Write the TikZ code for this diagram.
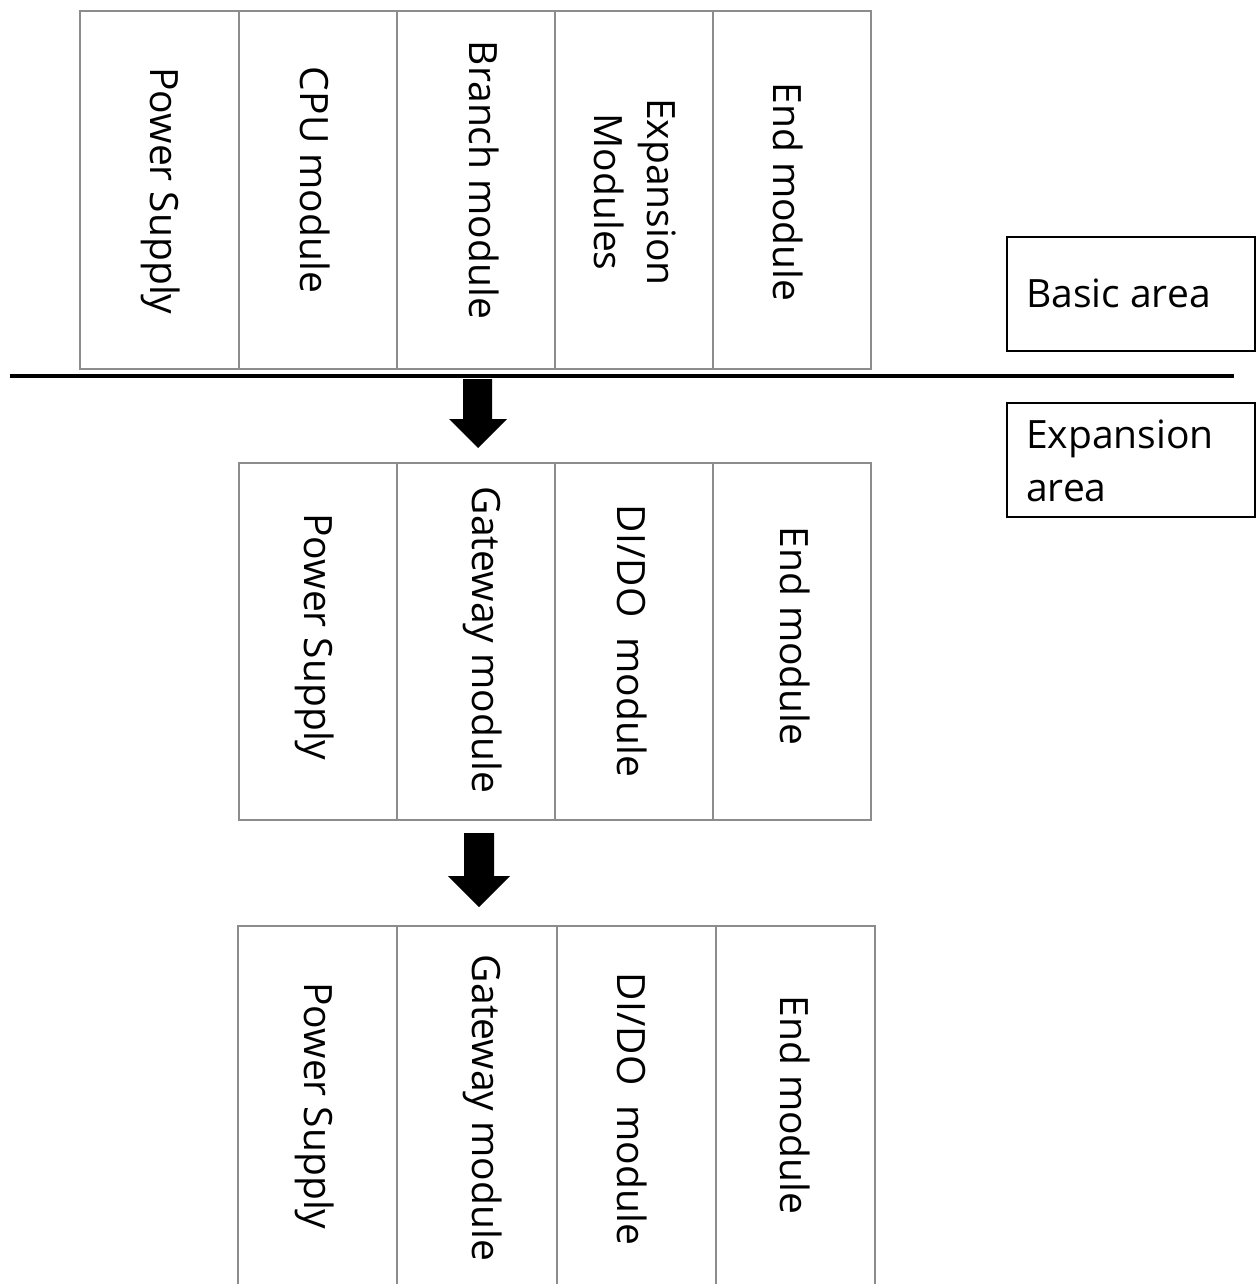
\documentclass[tikz,border=0pt]{standalone}
\usepackage{fontspec}
\setmainfont{Open Sans}
\newcommand\modfont{\fontsize{39}{53}\selectfont}
\begin{document}
\begin{tikzpicture}[x=1pt,y=-1pt,
  modbox/.style={draw=black!45, line width=1.6pt, inner sep=0pt, anchor=north west},
  areabox/.style={draw=black, line width=1.5pt, inner sep=0pt, anchor=north west},
  modtext/.style={rotate=-90, align=center, inner sep=0pt, font=\modfont},
  areatext/.style={anchor=west, align=left, inner sep=0pt, font=\modfont},
  blockarrow/.style={fill=black}]
\useasboundingbox (0,0) rectangle (1256,1284);
\clip (0,0) rectangle (1256,1284);
\fill[white] (0,0) rectangle (1256,1284);

% ---- Row 1 (basic area)
\node[modbox, minimum width=159pt, minimum height=358pt] (r1a) at (79,10) {};
\node[modbox, minimum width=158pt, minimum height=358pt] (r1b) at (238,10) {};
\node[modbox, minimum width=158pt, minimum height=358pt] (r1c) at (396,10) {};
\node[modbox, minimum width=158pt, minimum height=358pt] (r1d) at (554,10) {};
\node[modbox, minimum width=158pt, minimum height=358pt] (r1e) at (712,10) {};
\node[modtext] (t1a) at (161,191) {Power Supply};
\node[modtext] (t1b) at (315,180) {CPU module};
\node[modtext] (t1c) at (484,180) {Branch module};
\node[modtext] (t1d) at (635,192) {Expansion\\Modules};
\node[modtext] (t1e) at (788,192) {End module};

% ---- separator line
\coordinate (sepL) at (10,376);
\coordinate (sepR) at (1234,376);
\draw[line width=4.5pt] (sepL) -- (sepR);

% ---- arrow 1
\fill[blockarrow] (463,379) -- (492,379) -- (492,419) -- (507,419) -- (478,448)
  -- (449,419) -- (463,419) -- cycle;

% ---- Row 2
\node[modbox, minimum width=158pt, minimum height=357pt] (r2a) at (238,462) {};
\node[modbox, minimum width=158pt, minimum height=357pt] (r2b) at (396,462) {};
\node[modbox, minimum width=158pt, minimum height=357pt] (r2c) at (554,462) {};
\node[modbox, minimum width=158pt, minimum height=357pt] (r2d) at (712,462) {};
\node[modtext] (t2a) at (315,637) {Power Supply};
\node[modtext] (t2b) at (483,640) {Gateway module};
\node[modtext] (t2c) at (632,641) {DI/DO\ \ module};
\node[modtext] (t2d) at (795,636) {End module};

% ---- arrow 2
\fill[blockarrow] (464,833) -- (494,833) -- (494,876) -- (510,876) -- (479,907)
  -- (448,876) -- (464,876) -- cycle;

% ---- Row 3
\node[modbox, minimum width=159pt, minimum height=420pt] (r3a) at (237,925) {};
\node[modbox, minimum width=160pt, minimum height=420pt] (r3b) at (396,925) {};
\node[modbox, minimum width=159pt, minimum height=420pt] (r3c) at (556,925) {};
\node[modbox, minimum width=159pt, minimum height=420pt] (r3d) at (715,925) {};
\node[modtext] (t3a) at (315,1106) {Power Supply};
\node[modtext] (t3b) at (483,1108) {Gateway module};
\node[modtext] (t3c) at (632,1109) {DI/DO\ \ module};
\node[modtext] (t3d) at (795,1105) {End module};

% ---- area labels
\node[areabox, minimum width=248pt, minimum height=114pt] (basic) at (1006,236) {};
\node[anchor=base west, inner sep=0pt, font=\modfont] (basictxt) at (1026,307) {Basic area};
\node[areabox, minimum width=248pt, minimum height=114pt] (exp) at (1006,402) {};
\node[areatext] (exptxt) at (1026,461) {Expansion\\area};
\end{tikzpicture}
\end{document}
